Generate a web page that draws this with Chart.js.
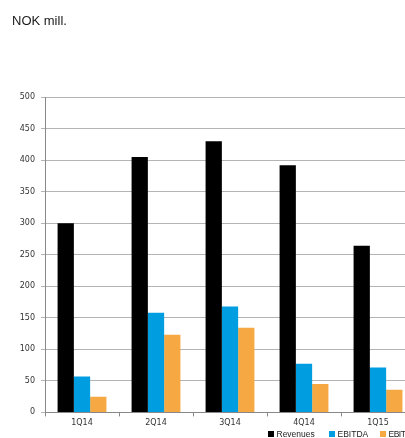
<!DOCTYPE html>
<html>
<head>
<meta charset="utf-8">
<script src="https://cdn.jsdelivr.net/npm/chart.js@4/dist/chart.umd.min.js"></script>
<style>
  html, body { margin: 0; padding: 0; background: #fff; overflow: hidden; width: 405px; height: 438px; }
  #wrap { position: absolute; left: 0; top: 0; width: 416px; height: 438px; }
  #title { position: absolute; left: 12px; top: 13px; font: 13px "Liberation Sans", Arial, sans-serif; color: #1a1a1a; white-space: nowrap; }
  #legend { position: absolute; left: 0; top: 429px; width: 416px; height: 10px; font: 8.5px "Liberation Sans", Arial, sans-serif; color: #222; white-space: nowrap; line-height: 10px; }
  #legend span.item { position: absolute; top: 0; display: inline-flex; align-items: center; }
  #legend span.item.last { letter-spacing: -0.5px; }
  #legend span.box { display: inline-block; width: 6px; height: 6px; margin-right: 2.5px; }
</style>
</head>
<body>
<div id="wrap"><canvas id="c" width="416" height="438"></canvas></div>
<div id="title">NOK mill.</div>
<div id="legend"></div>
<script>
const categories = ["1Q14", "2Q14", "3Q14", "4Q14", "1Q15"];
const revenues = [300, 405, 430, 392, 264];
const ebitda = [57, 158, 168, 77, 71];
const ebit = [25, 123, 134, 45, 36];
const seriesNames = ["Revenues", "EBITDA", "EBIT"];
const seriesColors = ["#000000", "#009ee0", "#f6a843"];
const yTicks = [0, 50, 100, 150, 200, 250, 300, 350, 400, 450, 500];

const seriesData = [revenues, ebitda, ebit];
const datasets = seriesNames.map((n, i) => ({
  label: n,
  data: seriesData[i],
  backgroundColor: seriesColors[i],
  borderWidth: 0,
  categoryPercentage: 0.66,
  barPercentage: 1.0
}));

const legendLeft = [268, 329, 380];
const legend = document.getElementById('legend');
seriesNames.forEach((n, i) => {
  const it = document.createElement('span');
  it.className = 'item' + (i === seriesNames.length - 1 ? ' last' : '');
  it.style.left = legendLeft[i] + 'px';
  const b = document.createElement('span');
  b.className = 'box';
  b.style.background = seriesColors[i];
  it.appendChild(b);
  it.appendChild(document.createTextNode(n));
  legend.appendChild(it);
});

const tickFont = { family: "DejaVu Sans", size: 8 };
new Chart(document.getElementById('c'), {
  type: 'bar',
  data: { labels: categories, datasets },
  options: {
    responsive: false,
    animation: false,
    devicePixelRatio: 1,
    layout: { padding: { top: 97, right: 1, bottom: 8, left: 0 } },
    plugins: { legend: { display: false }, title: { display: false }, tooltip: { enabled: false } },
    scales: {
      x: {
        grid: { display: true, drawOnChartArea: false, offset: true, tickLength: 4, color: '#888' },
        border: { color: '#888', width: 1 },
        ticks: { font: tickFont, color: '#333', padding: 2, maxRotation: 0 }
      },
      y: {
        min: 0, max: 500,
        afterBuildTicks: (s) => { s.ticks = yTicks.map(v => ({ value: v })); },
        afterFit: (s) => { s.width = 45; },
        grid: { color: '#b4b4b4', tickLength: 4, lineWidth: 1 },
        border: { color: '#888', width: 1 },
        ticks: { font: tickFont, color: '#333', padding: 6 }
      }
    }
  }
});
</script>
</body>
</html>
